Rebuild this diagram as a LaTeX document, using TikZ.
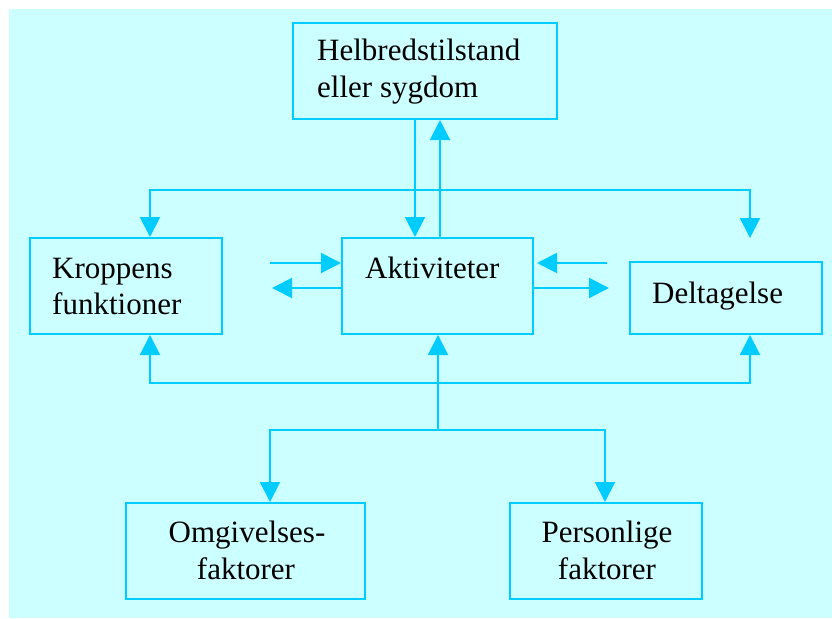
\documentclass[tikz,border=0pt]{standalone}
\usepackage{fontspec}
\setmainfont{Liberation Serif}
\usetikzlibrary{arrows.meta}
\definecolor{ln}{RGB}{0,204,255}
\definecolor{bgc}{RGB}{204,255,255}
\begin{document}
\begin{tikzpicture}[x=1pt,y=-1pt,
  box/.style={draw=ln, line width=2pt, inner sep=0pt, rectangle},
  txt/.style={inner sep=0pt, font=\fontsize{31}{37}\selectfont},
  arr/.style={draw=ln, line width=2pt, -{Triangle[length=20pt,width=20pt]}},
  arrtwo/.style={draw=ln, line width=2pt, {Triangle[length=20pt,width=20pt]}-{Triangle[length=20pt,width=20pt]}}]
\useasboundingbox (0,0) rectangle (832,618);
\fill[white] (0,0) rectangle (832,618);
\fill[bgc] (9,9) rectangle (832,618);
% boxes
\node[box, minimum width=264pt, minimum height=96pt] (helb) at (425,71) {};
\node[box, minimum width=192pt, minimum height=96pt] (krop) at (126,286) {};
\node[box, minimum width=191pt, minimum height=96pt] (akt) at (437.5,286) {};
\node[box, minimum width=192pt, minimum height=72pt] (delt) at (726,298) {};
\node[box, minimum width=239pt, minimum height=96pt] (omg) at (245.5,551) {};
\node[box, minimum width=192pt, minimum height=96pt] (pers) at (606,551) {};
% texts
\node[txt, anchor=base west] (helbA) at (317,60) {Helbredstilstand};
\node[txt, anchor=base west] (helbB) at (317,97) {eller sygdom};
\node[txt, anchor=base west] (kropA) at (52,278) {Kroppens};
\node[txt, anchor=base west] (kropB) at (52,314) {funktioner};
\node[txt, anchor=base west] (aktA) at (365,278) {Aktiviteter};
\node[txt, anchor=base west] (deltA) at (652,303) {Deltagelse};
\node[txt, anchor=base] (omgA) at (247,542) {Omgivelses-};
\node[txt, anchor=base] (omgB) at (246,579) {faktorer};
\node[txt, anchor=base] (persA) at (607,542) {Personlige};
\node[txt, anchor=base] (persB) at (607,579) {faktorer};
% coordinates
\coordinate (cA) at (415,0);
\coordinate (cB) at (440,0);
\coordinate (tl) at (150,190);
\coordinate (tr) at (750,190);
\coordinate (dtip) at (750,238);
\coordinate (bl) at (150,383);
\coordinate (br) at (750,383);
\coordinate (jn) at (438,430);
\coordinate (ol) at (270,430);
\coordinate (or) at (605,430);
\coordinate (kr) at (270,263);
\coordinate (kl) at (272,288);
\coordinate (dr) at (607,263);
\coordinate (drtip) at (537,263);
\coordinate (dl) at (609,288);
% connectors
\draw[arr] (helb.south -| cA) -- (akt.north -| cA);
\draw[arr] (akt.north -| cB) -- (helb.south -| cB);
\draw[arrtwo] (krop.north -| tl) -- (tl) -- (tr) -- (dtip);
\draw[arrtwo] (krop.south -| bl) -- (bl) -- (br) -- (delt.south -| br);
\draw[arr] (jn) -- (akt.south -| jn);
\draw[arrtwo] (omg.north -| ol) -- (ol) -- (or) -- (pers.north -| or);
\draw[arr] (kr) -- (akt.west |- kr);
\draw[arr] (akt.west |- kl) -- (kl);
\draw[arr] (dr) -- (drtip);
\draw[arr] (akt.east |- dl) -- (dl);
\end{tikzpicture}
\end{document}
